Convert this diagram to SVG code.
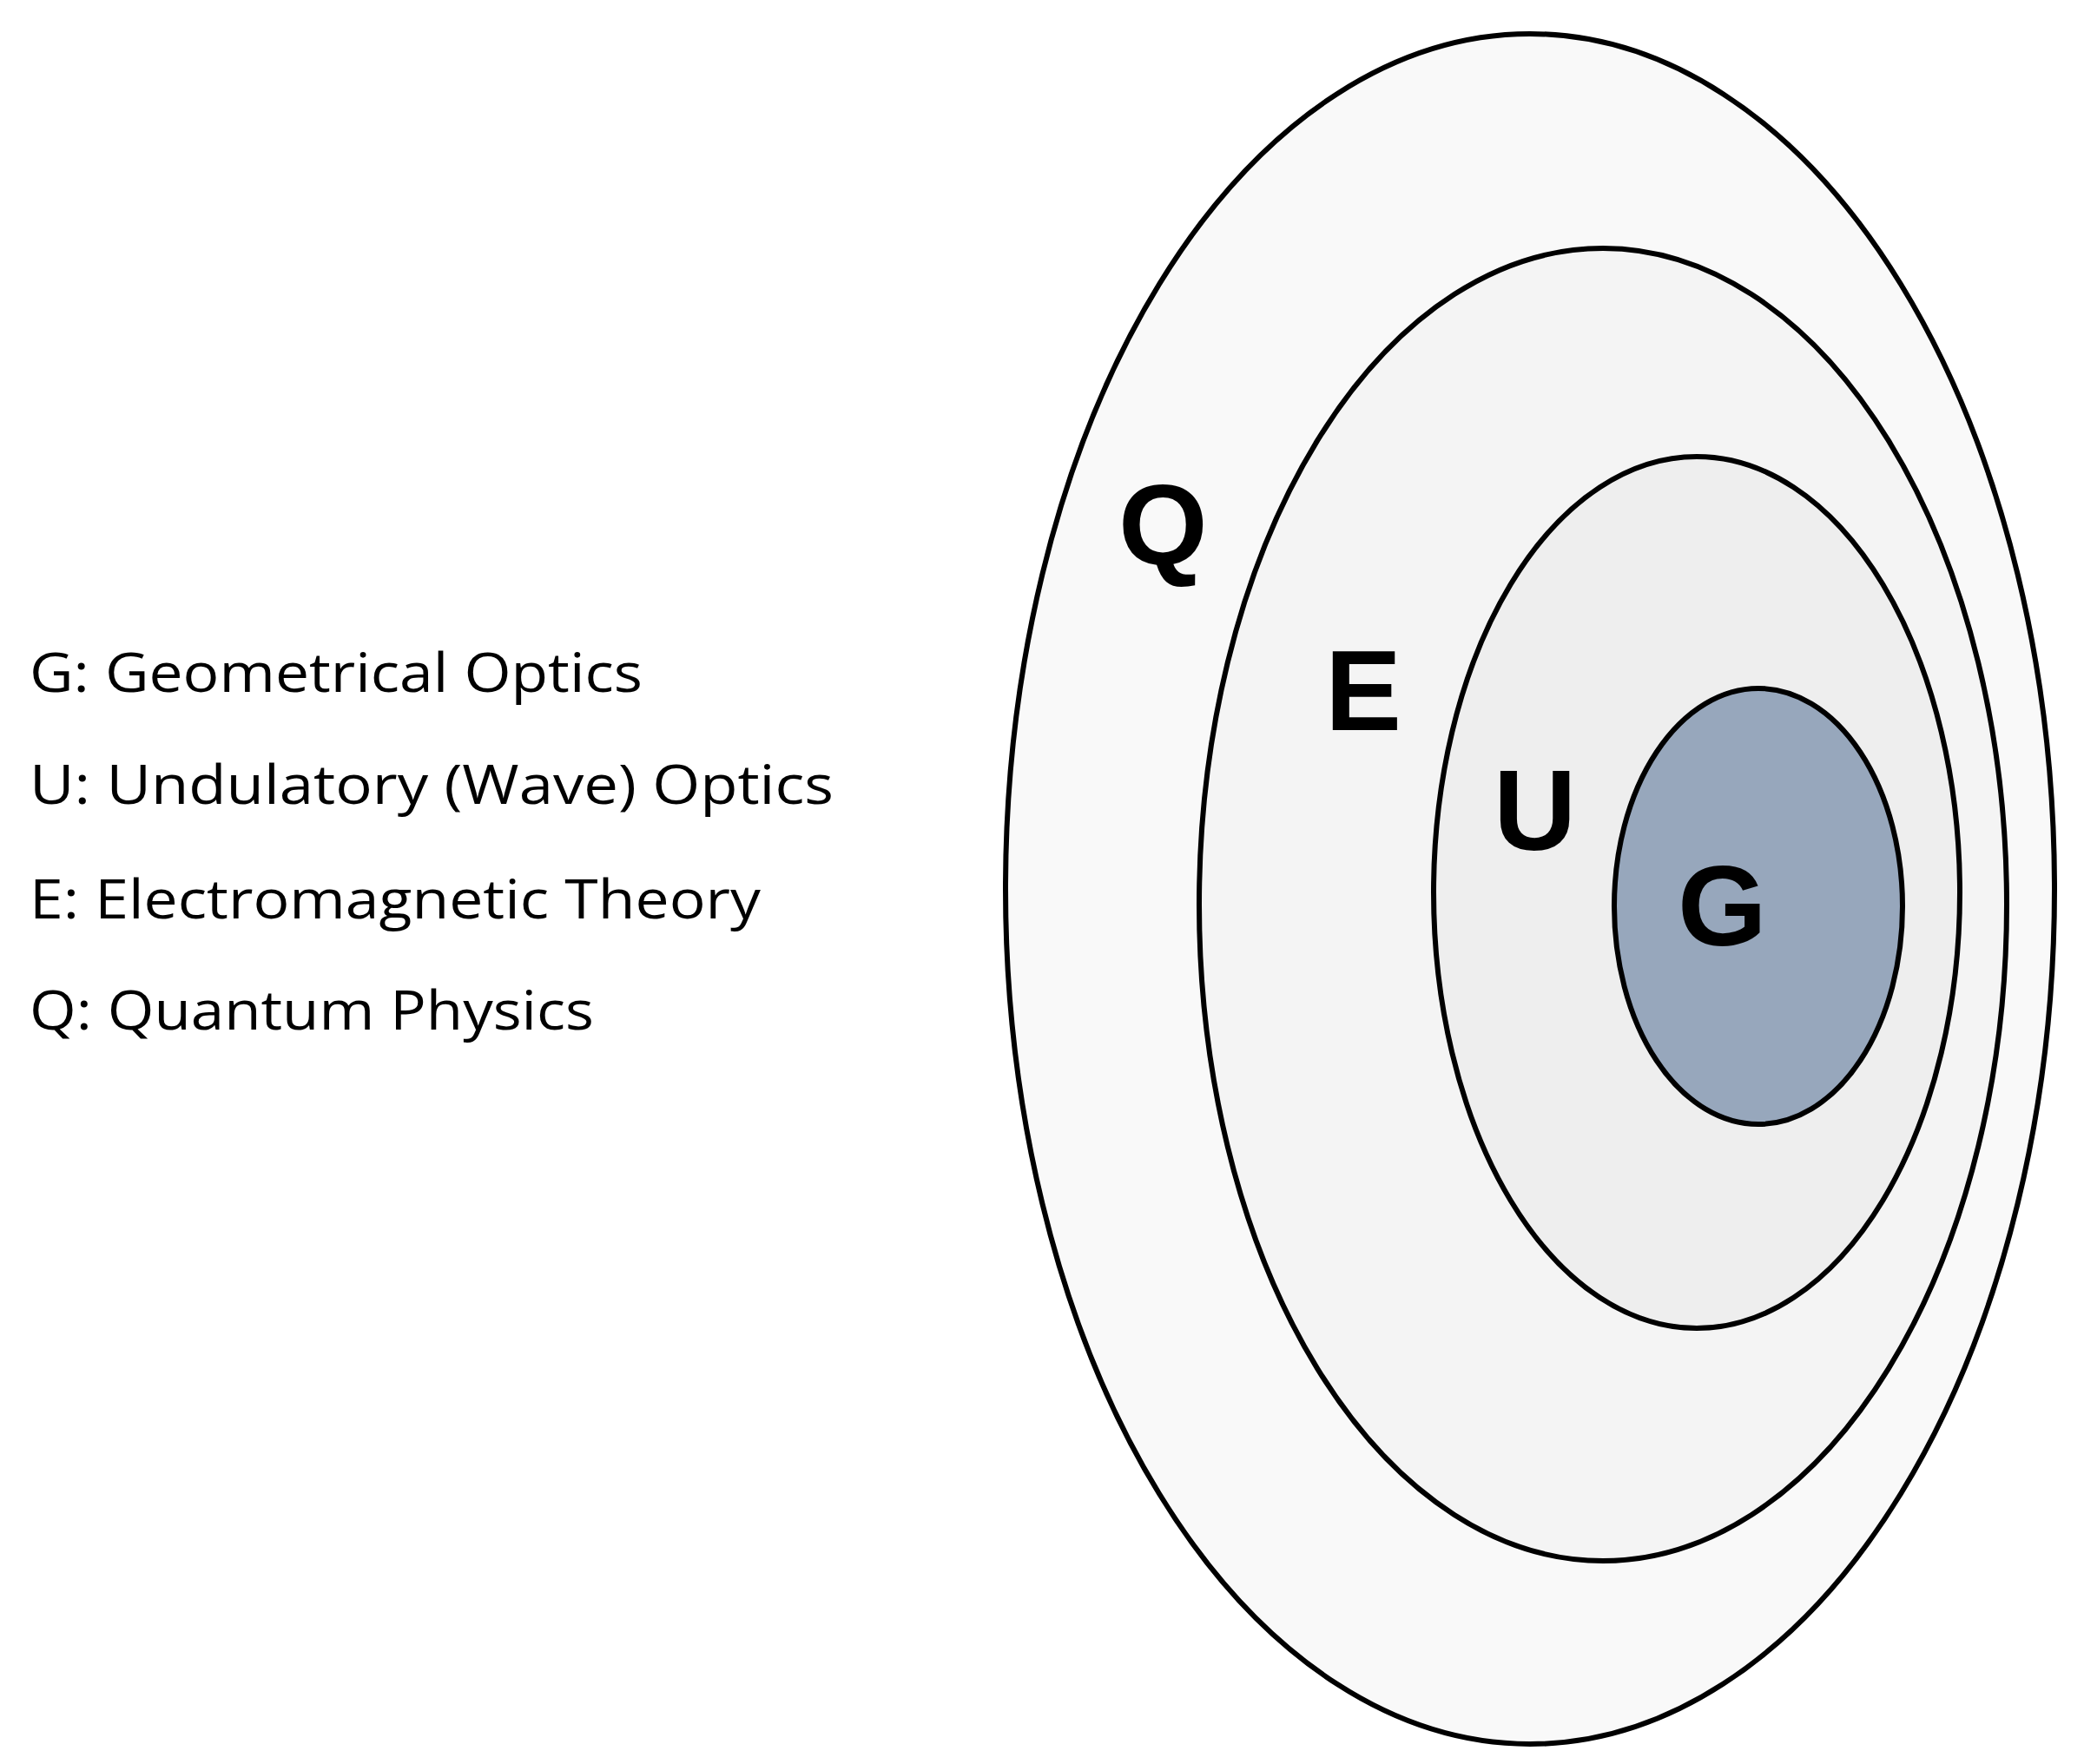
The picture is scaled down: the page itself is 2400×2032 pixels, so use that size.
<svg xmlns="http://www.w3.org/2000/svg" width="2400" height="2032" viewBox="0 0 2400 2032">
<style>
.e{stroke:#000;stroke-width:6}
.l{font-family:"Liberation Sans",Arial,sans-serif;font-weight:bold;font-size:132px;fill:#000}
.t{font-family:"Open Sans","Noto Sans",sans-serif;font-size:62px;fill:#000}
</style>
<rect width="2400" height="2032" fill="#fff"/>
<g id="Q"><ellipse class="e" cx="1762" cy="1024" rx="604" ry="985" fill="#f9f9f9"/><text class="l" x="1288" y="650">Q</text></g>
<g id="E"><ellipse class="e" cx="1846" cy="1042" rx="465" ry="756" fill="#f4f4f4"/><text class="l" x="1526" y="841">E</text></g>
<g id="U"><ellipse class="e" cx="1954" cy="1028" rx="303" ry="502" fill="#eeeeee"/><text class="l" x="1720" y="979">U</text></g>
<g id="G"><ellipse class="e" cx="2025" cy="1044" rx="166" ry="251" fill="#97a7bc"/><text class="l" x="1932" y="1089">G</text></g>
<g id="legend">
<text class="t" x="34" y="797" textLength="706" lengthAdjust="spacingAndGlyphs">G: Geometrical Optics</text>
<text class="t" x="34" y="926" textLength="926" lengthAdjust="spacingAndGlyphs">U: Undulatory (Wave) Optics</text>
<text class="t" x="34" y="1058" textLength="842" lengthAdjust="spacingAndGlyphs">E: Electromagnetic Theory</text>
<text class="t" x="34" y="1186" textLength="650" lengthAdjust="spacingAndGlyphs">Q: Quantum Physics</text>
</g>
<g id="connectors"/>
</svg>
